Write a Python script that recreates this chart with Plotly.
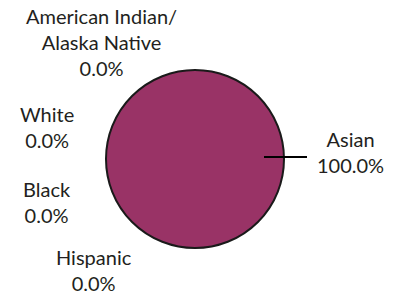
import plotly.graph_objects as go

labels = ["American Indian/<br>Alaska Native", "White", "Black", "Hispanic", "Asian"]
values = [0.0, 0.0, 0.0, 0.0, 100.0]
colors = ["#993366", "#993366", "#993366", "#993366", "#993366"]

W, H = 394, 295
# label block centers in pixels (layout only)
label_pos = [(101, 42), (47, 127), (47, 202), (94, 270), (350, 152)]

fig = go.Figure()
fig.add_trace(go.Pie(
    labels=labels, values=values, sort=False, direction="clockwise",
    marker=dict(colors=colors, line=dict(color="#1a1a1a", width=2)),
    textinfo="none", hoverinfo="label+percent", showlegend=False,
    domain=dict(x=[106 / W, 284 / W], y=[(H - 249) / H, (H - 69) / H]),
))

total = sum(values)
for (lab, v), (px, py) in zip(zip(labels, values), label_pos):
    fig.add_annotation(
        x=px / W, y=1 - py / H, xref="paper", yref="paper",
        text=f"{lab}<br>{v / total * 100:.1f}%", showarrow=False,
        xanchor="center", yanchor="middle", align="center",
        font=dict(family="Lato", size=20, color="#231f20"),
    )

# leader line for Asian
fig.add_shape(type="line", xref="paper", yref="paper",
              x0=264 / W, x1=307 / W, y0=1 - 157 / H, y1=1 - 157 / H,
              line=dict(color="#000000", width=2))

fig.update_layout(width=W, height=H, margin=dict(l=0, r=0, t=0, b=0),
                  paper_bgcolor="white", plot_bgcolor="white")
fig.write_html("out.html", config={"displayModeBar": False},
               post_script="document.body.style.margin='0';")
